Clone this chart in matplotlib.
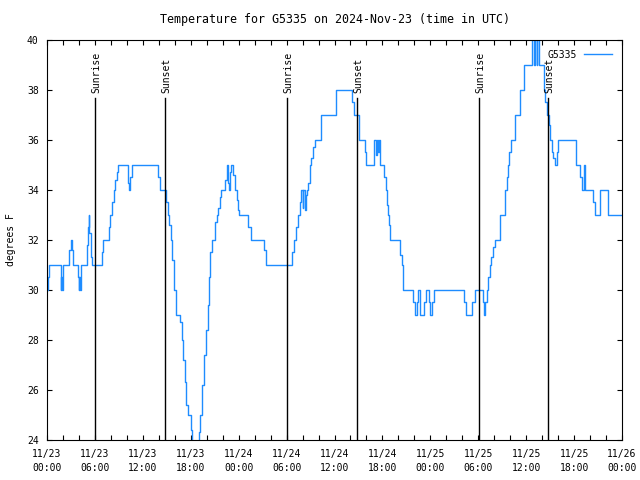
import matplotlib
matplotlib.use('Agg')
import matplotlib.pyplot as plt
from matplotlib.ticker import MultipleLocator
import matplotlib.transforms as mtransforms

# hours since 2024-11-23 00:00 UTC and temperature (deg F)
hours = [0.00, 0.15, 0.25, 1.72, 1.80, 1.85, 1.95, 2.05, 2.80, 2.95, 3.15, 3.25, 3.85, 4.00, 4.05,
         4.12, 4.25, 4.95, 5.10, 5.25, 5.32, 5.45, 5.55, 5.65, 6.90, 7.05, 7.76, 7.90, 8.15, 8.35,
         8.55, 8.75, 8.95, 10.20, 10.30, 10.40, 10.60, 13.85, 14.10, 14.85, 15.10, 15.30, 15.50,
         15.70, 15.90, 16.10, 16.65, 16.85, 17.05, 17.25, 17.45, 17.65, 18.00, 18.20, 19.05, 19.15,
         19.40, 19.60, 19.85, 20.10, 20.30, 20.45, 20.60, 21.05, 21.30, 21.45, 21.65, 21.80, 22.30,
         22.55, 22.70, 22.80, 22.95, 23.05, 23.30, 23.50, 23.75, 23.95, 24.08, 25.20, 25.50, 27.17,
         27.45, 30.72, 30.95, 31.20, 31.45, 31.65, 31.85, 32.00, 32.10, 32.25, 32.40, 32.50, 32.70,
         32.90, 33.10, 33.30, 33.55, 34.25, 36.15, 38.20, 38.40, 39.10, 39.85, 40.00, 40.95, 41.15,
         41.30, 41.45, 41.60, 41.75, 42.25, 42.40, 42.60, 42.72, 42.85, 43.00, 44.20, 44.40, 44.55,
         45.85, 46.05, 46.35, 46.50, 46.65, 46.75, 47.25, 47.50, 47.80, 48.00, 48.25, 48.50, 52.25,
         52.45, 53.25, 53.55, 54.65, 54.78, 54.90, 55.05, 55.25, 55.45, 55.65, 55.85, 56.05, 56.75,
         57.30, 57.55, 57.75, 57.90, 58.05, 58.65, 59.20, 59.70, 60.75, 60.95, 61.15, 61.30, 61.40,
         61.60, 62.20, 62.35, 62.55, 62.85, 62.98, 63.20, 63.40, 63.60, 63.80, 64.00, 66.20, 66.80,
         67.00, 67.20, 67.40, 68.40, 68.60, 69.20, 70.25, 72.00]
temps = [30, 30.5, 31, 30, 30.5, 30, 30.5, 31, 31.6, 32, 31.6, 31, 30.5, 30, 30.5,
         30, 31, 31.8, 32.5, 33, 32.3, 31.8, 31.3, 31, 31.5, 32, 32.5, 33, 33.5, 34,
         34.4, 34.7, 35, 34.3, 34, 34.5, 35, 34.5, 34, 33.5, 33, 32.6, 32,
         31.2, 30, 29, 28.7, 28, 27.2, 26.3, 25.4, 25, 24.4, 23, 24.3, 25,
         26.2, 27.4, 28.4, 29.4, 30.5, 31.5, 32, 32.7, 33, 33.3, 33.7, 34, 34.4,
         35, 34.3, 34, 34.7, 35, 34.6, 34, 33.6, 33.2, 33, 32.5, 32, 31.6,
         31, 31.5, 32, 32.5, 33, 33.5, 34, 33.3, 34, 33.2, 33.8, 34, 34.3,
         35, 35.3, 35.7, 36, 37, 38, 37.5, 37, 36, 35.5, 35, 36, 35.4,
         36, 35.5, 36, 35, 34.5, 34, 33.4, 33, 32.6, 32, 31.4, 31, 30,
         29.5, 29, 29.5, 30, 29.5, 29, 29.5, 30, 29.5, 29, 29.5, 30, 29.5,
         29, 29.5, 30, 29.5, 29, 29.5, 30, 30.5, 31, 31.3, 31.7, 32, 33,
         34, 34.5, 35, 35.5, 36, 37, 38, 39, 41, 39, 41, 39, 41,
         39, 38, 37.5, 37, 36.6, 36, 35.5, 35.3, 35, 35.5, 36, 35, 34.5,
         34, 35, 34, 33.5, 33, 34, 33, 33]

sun_names = ['Sunrise', 'Sunset', 'Sunrise', 'Sunset', 'Sunrise', 'Sunset']
sun_hours = [6.05, 14.81, 30.08, 38.86, 54.13, 62.77]
sun_line_top = 37.68

tick_hours = list(range(0, 73, 6))
tick_labels = ['11/23\n00:00', '11/23\n06:00', '11/23\n12:00', '11/23\n18:00',
               '11/24\n00:00', '11/24\n06:00', '11/24\n12:00', '11/24\n18:00',
               '11/25\n00:00', '11/25\n06:00', '11/25\n12:00', '11/25\n18:00',
               '11/26\n00:00']

plt.rcParams['font.family'] = 'DejaVu Sans Mono'
plt.rcParams['font.size'] = 7

fig = plt.figure(figsize=(6.4, 4.8), dpi=100)
ax = fig.add_axes([47/640, 40/480, 575/640, 400/480])

ax.plot(hours, temps, drawstyle='steps-post', color='#1e8cff', lw=1.0, label='G5335')

for t, name in zip(sun_hours, sun_names):
    ax.plot([t, t], [24, sun_line_top], color='black', lw=1.0)
    tr = mtransforms.offset_copy(ax.transData, fig=fig, x=1.5, y=5, units='dots')
    ax.text(t, sun_line_top, name, rotation=90, ha='center', va='bottom', transform=tr)

ax.set_xlim(0, 72)
ax.set_ylim(24, 40)
ax.set_xticks(tick_hours)
ax.set_xticklabels(tick_labels, linespacing=1.45)
ax.xaxis.set_minor_locator(MultipleLocator(2))
ax.yaxis.set_major_locator(MultipleLocator(2))
ax.tick_params(which='both', direction='in', top=True, right=True, length=3.6, width=0.8)
ax.tick_params(axis='x', pad=6.5)
ax.tick_params(axis='y', pad=6)
for s in ax.spines.values():
    s.set_linewidth(0.8)

ax.set_ylabel('degrees F', labelpad=8)
ax.set_title('Temperature for G5335 on 2024-Nov-23 (time in UTC)', pad=12)

ax.legend(loc='upper right', frameon=False, markerfirst=False, handlelength=2.9,
          handletextpad=0.7, borderaxespad=0.8, borderpad=0.2)

fig.savefig('out.png', dpi=100)
